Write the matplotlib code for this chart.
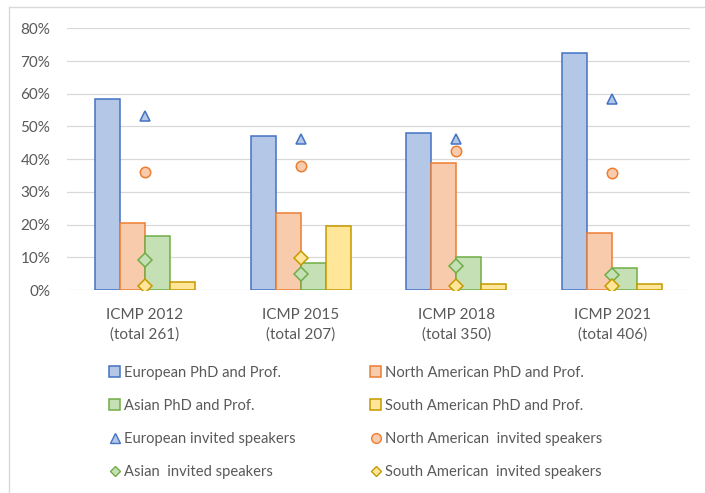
import matplotlib
matplotlib.use("Agg")
import matplotlib.pyplot as plt
from matplotlib.patches import Patch
from matplotlib.lines import Line2D
import numpy as np

plt.rcParams['font.family'] = ['Lato', 'DejaVu Sans']

categories = ["ICMP 2012\n(total 261)", "ICMP 2015\n(total 207)",
              "ICMP 2018\n(total 350)", "ICMP 2021\n(total 406)"]

# bar series (share of PhD and Prof.)
european_phd = [0.585, 0.472, 0.479, 0.726]
north_american_phd = [0.206, 0.236, 0.387, 0.173]
asian_phd = [0.164, 0.082, 0.100, 0.066]
south_american_phd = [0.025, 0.197, 0.017, 0.017]

# marker series (share of invited speakers)
european_inv = [0.532, 0.461, 0.461, 0.583]
north_american_inv = [0.361, 0.379, 0.426, 0.358]
asian_inv = [0.093, 0.048, 0.072, 0.046]
south_american_inv = [0.013, 0.097, 0.012, 0.012]

bar_labels = ["European PhD and Prof.", "North American PhD and Prof.",
              "Asian PhD and Prof.", "South American PhD and Prof."]
inv_labels = ["European invited speakers", "North American  invited speakers",
              "Asian  invited speakers", "South American  invited speakers"]

fills = ["#B4C7E7", "#F8CBAD", "#C5E0B4", "#FFE699"]
edges = ["#4472C4", "#ED7D31", "#70AD47", "#C59A00"]
inv_markers = ["^", "o", "D", "D"]
inv_sizes = [7.5, 7.5, 7, 7]
leg_sizes = [7.5, 7.0, 5.2, 5.2]

W, H = 705, 493
fig = plt.figure(figsize=(W / 100, H / 100), dpi=100)
ax = fig.add_axes([67 / W, (H - 290) / H, 623 / W, (290 - 28.3) / H])

x = np.arange(len(categories))
bw = 0.1606
bar_series = [european_phd, north_american_phd, asian_phd, south_american_phd]
inv_series = [european_inv, north_american_inv, asian_inv, south_american_inv]

bar_handles = []
for i, vals in enumerate(bar_series):
    ax.bar(x + (i - 1.5) * bw, vals, width=bw, color=fills[i],
           edgecolor=edges[i], linewidth=1.1, zorder=3, label=bar_labels[i])
    bar_handles.append(Patch(facecolor=fills[i], edgecolor=edges[i], linewidth=1.1))

inv_handles = []
for i, vals in enumerate(inv_series):
    ax.plot(x, vals, linestyle="none", marker=inv_markers[i], ms=inv_sizes[i],
            markerfacecolor=fills[i], markeredgecolor=edges[i], markeredgewidth=1.1,
            zorder=5)
    inv_handles.append(Line2D([], [], linestyle="none", marker=inv_markers[i],
                              ms=leg_sizes[i], markerfacecolor=fills[i],
                              markeredgecolor=edges[i], markeredgewidth=1.0))

ax.set_xlim(-0.5, 3.5)
ax.set_ylim(0, 0.8)
yt = np.arange(0, 0.81, 0.1)
ax.set_yticks(yt)
ax.set_yticklabels([f"{int(round(v * 100))}%" for v in yt])
ax.set_xticks(x)
ax.set_xticklabels(categories, linespacing=1.5)
ax.grid(axis="y", color="#D9D9D9", linewidth=0.9, zorder=0)
ax.set_axisbelow(True)
for s in ax.spines.values():
    s.set_visible(False)
ax.tick_params(axis="both", length=0, colors="#595959", labelsize=11)
ax.tick_params(axis="y", pad=12)
ax.tick_params(axis="x", pad=13)

# legend in two columns
col1 = [bar_handles[0], bar_handles[2], inv_handles[0], inv_handles[2]]
col1_l = [bar_labels[0], bar_labels[2], inv_labels[0], inv_labels[2]]
col2 = [bar_handles[1], bar_handles[3], inv_handles[1], inv_handles[3]]
col2_l = [bar_labels[1], bar_labels[3], inv_labels[1], inv_labels[3]]
common = dict(loc="upper left", frameon=False, fontsize=10.6, handlelength=0.75,
              handleheight=0.75, handletextpad=0.25, labelspacing=1.29,
              borderpad=0, borderaxespad=0)
for hs, ls, x0 in [(col1, col1_l, 109), (col2, col2_l, 370)]:
    leg = fig.legend(hs, ls, bbox_to_anchor=(x0 / W, (H - 366) / H), **common)
    for t in leg.get_texts():
        t.set_color("#595959")

# chart frame lines
fig.add_artist(Line2D([9 / W, 9 / W], [0, (H - 7) / H], color="#D9D9D9", lw=1))
fig.add_artist(Line2D([9 / W, 1], [(H - 7) / H, (H - 7) / H], color="#D9D9D9", lw=1))

fig.savefig("out.png", dpi=100)
